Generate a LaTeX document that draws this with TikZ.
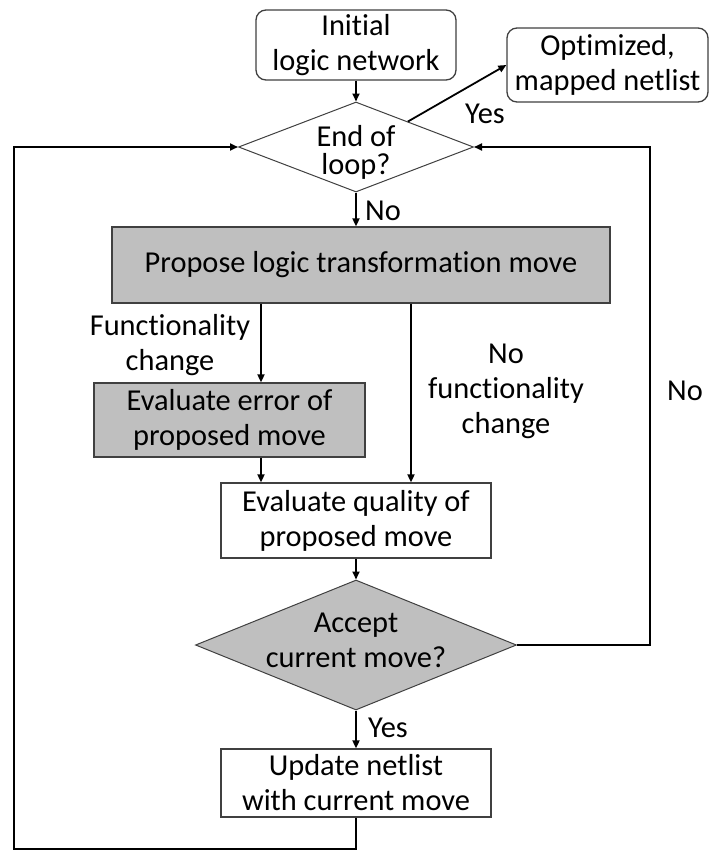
\documentclass[tikz,border=0pt]{standalone}
\usepackage{fontspec}
\setmainfont[Ligatures={NoCommon,NoContextual}]{Carlito}
\usetikzlibrary{shapes.geometric,arrows.meta,calc}
\definecolor{boxgray}{RGB}{191,191,191}
\definecolor{edgegray}{RGB}{64,64,64}
\begin{document}
\begin{tikzpicture}[x=1pt,y=-1pt,
  every node/.style={font=\fontsize{30.4}{35}\selectfont, align=center, inner sep=0pt},
  rbox/.style={draw=edgegray, line width=1.3pt, rounded corners=10pt, fill=white},
  pbox/.style={draw=edgegray, line width=1.3pt, fill=white},
  gbox/.style={pbox, fill=boxgray},
  dmd/.style={diamond, draw=edgegray, line width=1pt, inner sep=0pt},
  flow/.style={line width=1.8pt, -{Triangle[length=8pt,width=7pt]}},
  lbl/.style={anchor=base}
]
\useasboundingbox (0,0) rectangle (709,852);

% routing guides
\coordinate (rr) at (650,0);
\coordinate (ll) at (14,0);
\coordinate (bb) at (0,849);
\coordinate (fx) at (261,0);
\coordinate (nx) at (411,0);

% blocks
\node[rbox, minimum width=200pt, minimum height=70pt] (init) at (356,45) {Initial\\logic network};
\node[rbox, minimum width=201pt, minimum height=74pt] (opt) at (607.5,65) {Optimized,\\mapped netlist};
\node[dmd, fill=white, minimum width=235pt, minimum height=90pt] (end) at (356,147) {};
\node[font=\fontsize{30.4}{28}\selectfont] (endtxt) at (356,152) {End of\\loop?};
\node[gbox, minimum width=498pt, minimum height=76pt] (prop) at (361,265) {Propose logic transformation move};
\node[gbox, minimum width=271pt, minimum height=74pt] (err) at (229.5,420) {Evaluate error of\\proposed move};
\node[pbox, minimum width=270pt, minimum height=75pt] (qual) at (356,520.5) {Evaluate quality of\\proposed move};
\node[dmd, fill=boxgray, minimum width=321pt, minimum height=130pt] (acc) at (356,645) {};
\node (acctxt) at (356,640) {Accept\\current move?};
\node[pbox, minimum width=270pt, minimum height=68pt] (upd) at (356,783) {Update netlist\\with current move};

% connectors
\draw[flow] (init.south) -- (end.north);
\draw[flow] ($(end.north)!0.44!(end.east)$) -- (opt.west);
\draw[flow] (end.south) -- (end.south |- prop.north);
\draw[flow] (prop.south -| fx) -- (err.north -| fx);
\draw[flow] (prop.south -| nx) -- (qual.north -| nx);
\draw[flow] (err.south -| fx) -- (qual.north -| fx);
\draw[flow] (qual.south) -- (acc.north);
\draw[flow] (acc.south) -- (upd.north);
\draw[flow] (acc.east) -- (acc.east -| rr) -- (end.east -| rr) -- (end.east);
\draw[flow] (upd.south) -- (upd.south |- bb) -- (ll |- bb) -- (ll |- end.west) -- (end.west);

% connector labels
\node[lbl] (yes1) at (485,123) {Yes};
\node[lbl] (no1) at (383,220) {No};
\node (fc) at (170,345) {Functionality\\change};
\node (nfc) at (506,391) {No\\functionality\\change};
\node[lbl] (no2) at (685,400) {No};
\node[lbl] (yes2) at (388,737) {Yes};
\end{tikzpicture}
\end{document}
